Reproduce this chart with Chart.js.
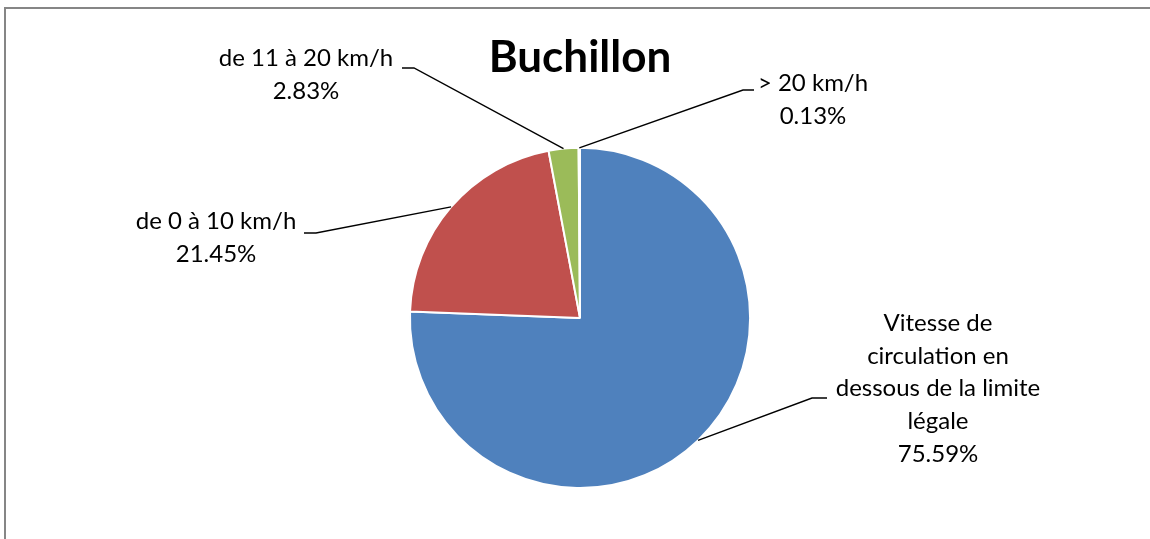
<!DOCTYPE html>
<html>
<head>
<meta charset="utf-8">
<script src="https://cdn.jsdelivr.net/npm/chart.js@4"></script>
<style>
  html, body { margin:0; padding:0; background:#fff; }
  #wrap { width:1150px; height:539px; position:relative; }
</style>
</head>
<body>
<div id="wrap"><canvas id="chart" width="1150" height="539"></canvas></div>
<script>
const categories = [
    ["Vitesse de", "circulation en", "dessous de la limite", "légale"],
    ["de 0 à 10 km/h"],
    ["de 11 à 20 km/h"],
    ["> 20 km/h"]
];
const shares = [75.59, 21.45, 2.83, 0.13];
const colors = ["#4F81BD", "#C0504D", "#9BBB59", "#8064A2"];

const FONT = "Lato, 'Open Sans', sans-serif";

// where each data label sits (text centre x, first line y) and the elbow of its leader line
const labelLayout = [
    { x: 938, y: 323, elbow: [812, 398], end: [827, 398] },
    { x: 216, y: 221, elbow: [316, 233], end: [304, 233] },
    { x: 306, y: 58,  elbow: [414, 68],  end: [402, 68] },
    { x: 813, y: 83,  elbow: [743, 90],  end: [754, 90] }
];

const framePlugin = {
    id: "frame",
    beforeDraw(chart) {
        const c = chart.ctx;
        c.save();
        c.strokeStyle = "#868686";
        c.lineWidth = 2;
        c.strokeRect(5, 8, 1200, 600);
        c.restore();
    }
};

const leaderLabels = {
    id: "leaderLabels",
    afterDatasetsDraw(chart) {
        const c = chart.ctx;
        const arcs = chart.getDatasetMeta(0).data;
        c.save();
        c.strokeStyle = "#000";
        c.lineWidth = 1.4;
        c.fillStyle = "#000";
        c.font = "24px " + FONT;
        c.textAlign = "center";
        c.textBaseline = "middle";
        arcs.forEach((arc, i) => {
            const p = arc.getProps(["x", "y", "startAngle", "endAngle", "outerRadius"], true);
            const mid = (p.startAngle + p.endAngle) / 2;
            const ax = p.x + p.outerRadius * Math.cos(mid);
            const ay = p.y + p.outerRadius * Math.sin(mid);
            const L = labelLayout[i];
            c.beginPath();
            c.moveTo(ax, ay);
            c.lineTo(L.elbow[0], L.elbow[1]);
            c.lineTo(L.end[0], L.end[1]);
            c.stroke();
            const lines = categories[i].concat([shares[i].toFixed(2) + "%"]);
            lines.forEach((t, k) => c.fillText(t, L.x, L.y + k * 32.8));
        });
        c.restore();
    }
};

new Chart(document.getElementById("chart"), {
    type: "pie",
    data: {
        labels: categories,
        datasets: [{
            data: shares,
            backgroundColor: colors,
            borderColor: "#ffffff",
            borderWidth: 2
        }]
    },
    options: {
        responsive: false,
        animation: false,
        layout: { padding: { top: 6, bottom: 50, left: 408, right: 398 } },
        plugins: {
            legend: { display: false },
            tooltip: { enabled: false },
            title: {
                display: true,
                text: "Buchillon",
                color: "#000",
                font: { family: FONT, size: 44, weight: "bold", lineHeight: 1.2 },
                padding: { top: 25, bottom: 63 }
            }
        }
    },
    plugins: [framePlugin, leaderLabels]
});
</script>
</body>
</html>
